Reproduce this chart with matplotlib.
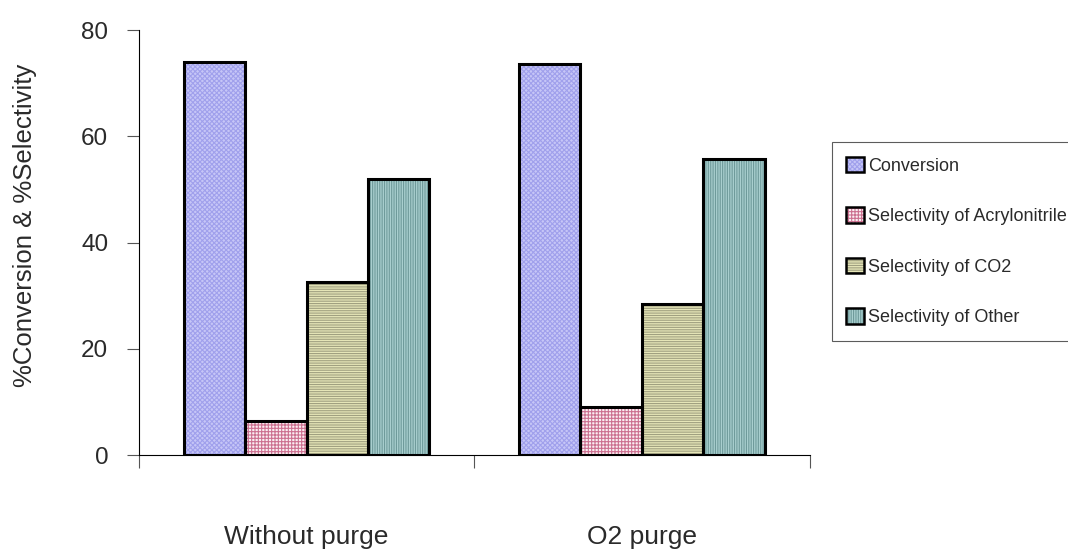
import matplotlib
matplotlib.use("Agg")
import matplotlib.pyplot as plt
from matplotlib.patches import Patch
import numpy as np

categories = ["Without purge", "O2 purge"]
series_names = ["Conversion", "Selectivity of Acrylonitrile",
                "Selectivity of CO2", "Selectivity of Other"]
conversion = [74.0, 73.6]
sel_acrylonitrile = [6.4, 9.0]
sel_co2 = [32.6, 28.4]
sel_other = [52.0, 55.7]
y_ticks = [0, 20, 40, 60, 80]

series_values = [conversion, sel_acrylonitrile, sel_co2, sel_other]
face_colors = ["#c6c6f7", "#fbeef2", "#e6e6b8", "#a9cfcf"]
hatch_colors = ["#a0a0ec", "#cc7090", "#a0a080", "#6e9a9a"]
hatches = ["xxxxxxx", "+++++", "-------", "|||||||"]

text_color = "#2a2a2a"
plt.rcParams["font.family"] = ["Liberation Sans", "DejaVu Sans"]
plt.rcParams["hatch.linewidth"] = 0.8

fig = plt.figure(figsize=(10.68, 5.49), dpi=100)
ax = fig.add_axes([0.130, 0.171, 0.628, 0.774])

x = np.arange(len(categories))
width = 0.183
offsets = (np.arange(len(series_names)) - 1.5) * width

handles = []
for vals, name, fc, hc, h, off in zip(series_values, series_names, face_colors,
                                      hatch_colors, hatches, offsets):
    # patterned fill
    ax.bar(x + off, vals, width, color=fc, edgecolor=hc, hatch=h,
           linewidth=0, zorder=2)
    # black outline
    ax.bar(x + off, vals, width, fill=False, edgecolor="black",
           linewidth=2.2, zorder=3)
    fill_key = Patch(facecolor=fc, edgecolor=hc, hatch=h, linewidth=0)
    edge_key = Patch(fill=False, edgecolor="black", linewidth=1.8)
    handles.append((fill_key, edge_key))

ax.set_xlim(-0.5, 1.5)
ax.set_ylim(0, 80)
ax.set_yticks(y_ticks)
ax.tick_params(axis="y", labelsize=17.5, length=9, width=0.8, color="#555555",
               labelcolor=text_color, pad=13, direction="out")

ax.set_xticks(x)
ax.set_xticklabels(categories)
ax.tick_params(axis="x", which="major", length=0, labelsize=19, pad=50,
               labelcolor=text_color)
ax.set_xticks([-0.5, 0.5, 1.5], minor=True)
ax.tick_params(axis="x", which="minor", length=9, width=0.8, color="#555555",
               direction="out")

for side in ("top", "right"):
    ax.spines[side].set_visible(False)
ax.spines["left"].set_linewidth(0.8)
ax.spines["bottom"].set_linewidth(0.8)

ax.set_ylabel("%Conversion & %Selectivity", fontsize=18.5, color=text_color)
ax.yaxis.set_label_coords(-0.152, 0.541)

leg = fig.legend(handles=handles, labels=series_names, loc="upper left",
                 bbox_to_anchor=(0.779, 0.741), borderaxespad=0,
                 fontsize=13, frameon=True, fancybox=False,
                 handlelength=0.95, handleheight=0.95, handletextpad=0.25,
                 labelspacing=1.8, borderpad=0.8, edgecolor="#333333")
leg.get_frame().set_linewidth(0.8)
for t in leg.get_texts():
    t.set_color(text_color)

fig.savefig("out.png", dpi=100)
